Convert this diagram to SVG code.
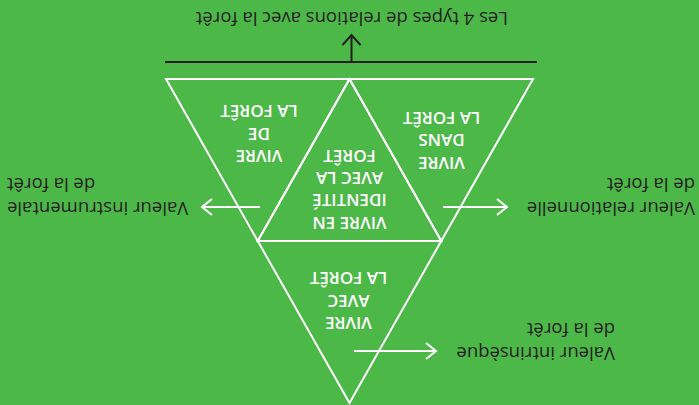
<svg xmlns="http://www.w3.org/2000/svg" width="699" height="405" viewBox="0 0 699 405">
  <style>
    .tri { fill: none; stroke: #ffffff; stroke-width: 2; stroke-linejoin: miter; }
    .node-text { font-family: "Open Sans", "Liberation Sans", sans-serif; font-weight: 600; font-size: 17px; fill: #ffffff; text-anchor: middle; }
    .label { font-family: "Open Sans", "Liberation Sans", sans-serif; font-size: 18.5px; fill: #231f20; }
    .wline { stroke: #ffffff; stroke-width: 2; fill: none; }
    .bline { stroke: #231f20; stroke-width: 2; fill: none; }
  </style>
  <defs>
    <marker id="arrW" markerUnits="userSpaceOnUse" markerWidth="14" markerHeight="20" viewBox="-1 -1 14 20" refX="11" refY="8" orient="auto">
      <path d="M1,0 L11,8 L1,16" fill="none" stroke="#ffffff" stroke-width="2"/>
    </marker>
    <marker id="arrB" markerUnits="userSpaceOnUse" markerWidth="14" markerHeight="22" viewBox="-1 -1 14 22" refX="11" refY="9" orient="auto">
      <path d="M1,0 L11,9 L1,18" fill="none" stroke="#231f20" stroke-width="2"/>
    </marker>
  </defs>
  <rect x="0" y="0" width="699" height="405" fill="#4cb848"/>
  <g transform="rotate(180 349.5 202.5)">
    <g id="node-avec">
      <polygon class="tri" points="349.5,2 257.75,164 441.25,164"/>
      <text class="node-text"><tspan x="350.5" y="88">VIVRE</tspan><tspan x="350.5" y="110.5">AVEC</tspan><tspan x="350.5" y="133">LA FORÊT</tspan></text>
    </g>
    <g id="node-dans">
      <polygon class="tri" points="257.75,164 166,326 349.5,326"/>
      <text class="node-text"><tspan x="257.5" y="248.5">VIVRE</tspan><tspan x="257.5" y="271">DANS</tspan><tspan x="257.5" y="293.5">LA FORÊT</tspan></text>
    </g>
    <g id="node-de">
      <polygon class="tri" points="441.25,164 349.5,326 533,326"/>
      <text class="node-text"><tspan x="440" y="255">VIVRE</tspan><tspan x="440" y="277.5">DE</tspan><tspan x="440" y="300">LA FORÊT</tspan></text>
    </g>
    <g id="node-identite">
      <polygon class="tri" points="257.75,164 441.25,164 349.5,326"/>
      <text class="node-text"><tspan x="349.5" y="188">VIVRE EN</tspan><tspan x="349.5" y="211">IDENTITÉ</tspan><tspan x="349.5" y="233.5">AVEC LA</tspan><tspan x="349.5" y="255.5">FORÊT</tspan></text>
    </g>
    <g id="connectors">
      <line class="wline" x1="439" y1="198" x2="497" y2="198" marker-end="url(#arrW)"/>
      <line class="wline" x1="256" y1="198" x2="192" y2="198" marker-end="url(#arrW)"/>
      <line class="wline" x1="345" y1="54" x2="263" y2="54" marker-end="url(#arrW)"/>
      <line class="bline" x1="162" y1="343" x2="534" y2="343"/>
      <line class="bline" x1="347.5" y1="343" x2="347.5" y2="370" marker-end="url(#arrB)"/>
    </g>
    <g id="label-instrumentale">
      <text class="label" text-anchor="end"><tspan x="692" y="203">Valeur instrumentale</tspan><tspan x="692" y="227">de la forêt</tspan></text>
    </g>
    <g id="label-relationnelle">
      <text class="label"><tspan x="4" y="203">Valeur relationnelle</tspan><tspan x="4" y="227">de la forêt</tspan></text>
    </g>
    <g id="label-intrinseque">
      <text class="label"><tspan x="84" y="58">Valeur intrinsèque</tspan><tspan x="84" y="82">de la forêt</tspan></text>
    </g>
    <g id="title">
      <text class="label" x="191" y="393">Les 4 types de relations avec la forêt</text>
    </g>
  </g>
</svg>
